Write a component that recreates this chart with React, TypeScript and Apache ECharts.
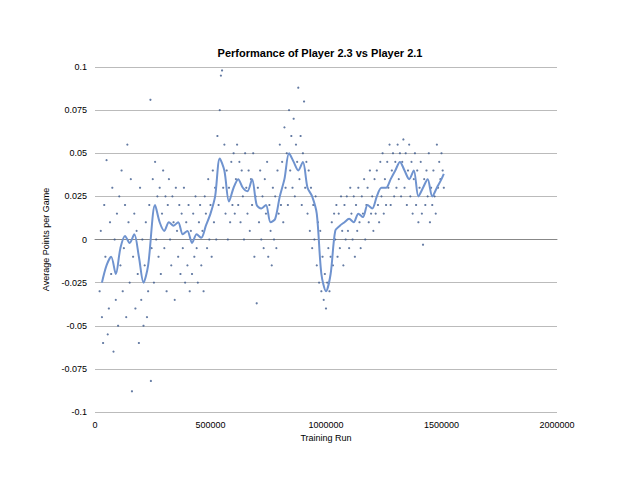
import React, { useEffect, useRef } from "react";
import * as echarts from "echarts";

// smoothed line: [training run (thousands), avg points]
const lineData: [number, number][] = [
  [30,-0.025],[50,-0.015],[70,-0.01],[90,-0.02],[110,-0.005],[130,0.002],[150,-0.002],[170,0.003],[190,-0.01],[210,-0.025],[230,-0.015],[260,0.02],[280,0.01],[300,0.005],[320,0.01],[340,0.008],[360,0.01],[380,0.003],[400,0.005],[420,-0.002],[440,0.003],[460,0.001],[480,0.008],[500,0.015],[520,0.025],[540,0.047],[560,0.04],[580,0.022],[600,0.03],[620,0.035],[640,0.03],[660,0.028],[680,0.035],[700,0.02],[720,0.018],[740,0.02],[760,0.01],[780,0.012],[800,0.025],[820,0.035],[840,0.05],[860,0.045],[880,0.04],[900,0.045],[920,0.03],[940,0.025],[960,0.015],[980,-0.02],[1000,-0.03],[1020,-0.02],[1040,0.005],[1060,0.008],[1080,0.01],[1100,0.012],[1120,0.01],[1140,0.015],[1160,0.013],[1180,0.02],[1200,0.018],[1220,0.025],[1240,0.03],[1260,0.03],[1280,0.035],[1300,0.04],[1320,0.045],[1340,0.04],[1360,0.035],[1380,0.04],[1400,0.025],[1420,0.03],[1440,0.035],[1460,0.025],[1480,0.03],[1500,0.035],[1510,0.038]
];

// individual samples: [training run (thousands), avg points (thousandths)]
const scatterData: [number, number][] = [
  [20,-30],[25,5],[30,-45],[35,-60],[40,20],[45,-10],[50,46],[55,-55],[60,-40],[65,10],[70,-20],[75,30],[80,-65],[85,0],[90,-35],[95,15],[100,-50],[105,25],[110,-15],[115,40],[120,-30],[125,-5],[130,20],[135,-45],[140,55],[145,10],[150,-25],[155,35],[160,-88],[165,-10],[170,15],[175,-40],[180,5],[185,-20],[190,-60],[195,30],[200,-35],[205,0],[210,-50],[215,-15],[220,10],[225,-45],[230,-30],[235,20],[240,81],[242,-82],[245,-5],[250,35],[255,-25],[260,45],[265,0],[270,25],[275,-10],[280,30],[285,-20],[290,15],[295,40],[300,-5],[305,25],[310,-30],[315,20],[320,35],[325,0],[330,-15],[335,25],[340,10],[345,-35],[350,30],[355,5],[360,-10],[365,20],[370,-20],[375,15],[380,-5],[385,30],[390,-25],[395,10],[400,-15],[405,20],[410,-30],[415,5],[420,-20],[425,15],[430,-10],[435,25],[440,-5],[445,-25],[450,10],[455,20],[460,-15],[465,5],[470,-30],[475,25],[480,15],[485,-5],[490,35],[495,0],[500,20],[505,-10],[510,40],[515,10],[520,30],[525,0],[530,60],[535,20],[540,75],[545,95],[550,98],[555,30],[560,55],[565,15],[570,40],[575,0],[580,30],[585,10],[590,45],[595,20],[600,50],[605,15],[610,35],[615,55],[620,20],[625,45],[630,10],[635,40],[640,25],[645,0],[650,50],[655,30],[660,15],[665,40],[670,5],[675,35],[680,20],[685,50],[690,-10],[695,25],[700,-37],[705,30],[710,10],[715,40],[720,0],[725,25],[730,-5],[735,35],[740,15],[745,45],[750,-10],[755,20],[760,5],[765,-15],[770,30],[775,0],[780,25],[785,-5],[790,40],[795,15],[800,55],[805,20],[810,45],[815,10],[820,65],[825,30],[830,50],[835,20],[840,75],[845,40],[850,60],[855,30],[860,70],[865,25],[870,55],[875,45],[880,88],[885,35],[890,60],[895,20],[900,50],[905,80],[910,30],[915,45],[920,15],[925,40],[930,5],[935,30],[940,-5],[945,20],[950,0],[955,25],[960,-15],[965,10],[970,-25],[975,5],[980,-30],[985,-10],[990,-35],[995,-20],[1000,-40],[1005,-25],[1010,-5],[1015,-30],[1020,-10],[1025,10],[1030,-15],[1035,15],[1040,0],[1045,20],[1050,-10],[1055,15],[1060,-5],[1065,25],[1070,5],[1075,-15],[1080,20],[1085,0],[1090,25],[1095,5],[1100,-5],[1105,30],[1110,15],[1115,0],[1120,25],[1125,-10],[1130,20],[1135,5],[1140,30],[1145,10],[1150,-5],[1155,25],[1160,15],[1165,35],[1170,0],[1175,20],[1180,30],[1185,10],[1190,40],[1195,15],[1200,25],[1205,5],[1210,35],[1215,15],[1220,40],[1225,20],[1230,10],[1235,45],[1240,25],[1245,50],[1250,15],[1255,35],[1260,20],[1265,45],[1270,30],[1275,55],[1280,20],[1285,40],[1290,50],[1295,25],[1300,45],[1305,30],[1310,55],[1315,35],[1320,50],[1325,25],[1330,45],[1335,58],[1340,30],[1345,50],[1350,20],[1355,40],[1360,55],[1365,25],[1370,45],[1375,15],[1380,35],[1385,50],[1390,20],[1395,40],[1400,10],[1405,30],[1410,45],[1415,15],[1420,-3],[1425,35],[1430,20],[1435,40],[1440,25],[1445,50],[1450,10],[1455,30],[1460,20],[1465,40],[1470,25],[1475,15],[1480,55],[1485,30],[1490,45],[1495,35],[1500,50],[1505,40],[1510,30]
];

const xTicks = [0, 500000, 1000000, 1500000, 2000000];

export default function App() {
  const ref = useRef<HTMLDivElement>(null);
  useEffect(() => {
    const chart = echarts.init(ref.current!, null, { renderer: "svg" });
    const font = "Liberation Sans";
    chart.setOption({
      animation: false,
      backgroundColor: "#fff",
      title: {
        text: "Performance of Player 2.3 vs Player 2.1",
        left: "center", top: 34,
        textStyle: { fontFamily: font, fontSize: 11, fontWeight: "bold", color: "#000" },
      },
      grid: { left: 87, right: 75, top: 59, bottom: 74 },
      xAxis: {
        type: "value", min: 0, max: xTicks[xTicks.length - 1], interval: 500000,
        name: "Training Run", nameLocation: "middle", nameGap: 20,
        nameTextStyle: { fontFamily: font, fontSize: 9, color: "#000" },
        axisLine: { lineStyle: { color: "#888" } },
        axisTick: { show: false }, splitLine: { show: false },
        axisLabel: { fontFamily: font, fontSize: 9, color: "#000", formatter: (v: number) => String(v) },
      },
      yAxis: {
        type: "value", min: -0.1, max: 0.1, interval: 0.025,
        name: "Average Points per Game", nameLocation: "middle", nameGap: 32,
        nameTextStyle: { fontFamily: font, fontSize: 9, color: "#000" },
        axisLine: { show: false }, axisTick: { show: false },
        splitLine: { lineStyle: { color: "#bbb", width: 1 } },
        axisLabel: { fontFamily: font, fontSize: 9, color: "#000", formatter: (v: number) => String(+v.toFixed(3)) },
      },
      series: [
        {
          type: "scatter", symbolSize: 2.2,
          itemStyle: { color: "#3d5a8c" },
          data: scatterData.map(([x, y]) => [x * 1000, y / 1000]),
        },
        {
          type: "line", showSymbol: false, smooth: 0.3,
          lineStyle: { color: "#6f93cf", width: 2 },
          data: lineData.map(([x, y]) => [x * 1000, y]),
        },
      ],
    });
    return () => chart.dispose();
  }, []);
  return <div ref={ref} style={{ width: 624, height: 478 }} />;
}
